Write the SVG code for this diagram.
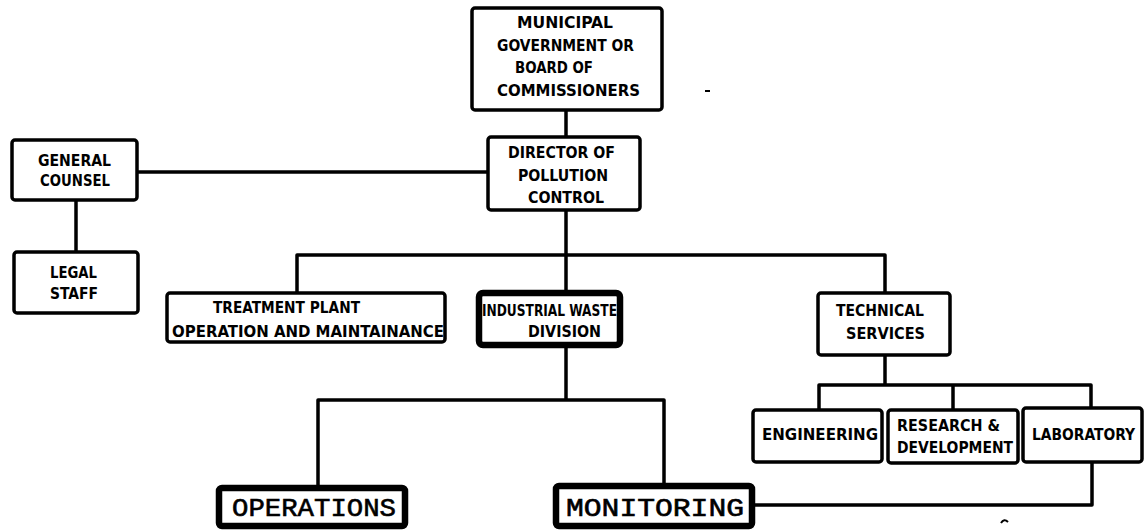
<svg xmlns="http://www.w3.org/2000/svg" width="1145" height="530" viewBox="0 0 1145 530">
<style>
.box{fill:#fff;stroke:#000;stroke-width:3.5}
.thick{fill:#fff;stroke:#000;stroke-width:6.5}
.lbl{font-family:"DejaVu Sans Condensed","DejaVu Sans",sans-serif;font-weight:bold;font-size:16px;fill:#000}
.mono{font-family:"Liberation Mono","Courier New",monospace;font-size:25px;fill:#000;stroke:#000;stroke-width:0.6}
.conn{fill:none;stroke:#000;stroke-width:3.5;stroke-linejoin:round}
</style>
<rect width="1145" height="530" fill="#fff"/>
<g id="connectors" class="conn">
<path d="M566 110V137"/>
<path d="M137 172H488"/>
<path d="M76 200V252"/>
<path d="M566 210V292"/>
<path d="M297 293V255H885V293"/>
<path d="M885 355V385"/>
<path d="M819 410V385H1091V408"/>
<path d="M953 385V410"/>
<path d="M566 345V400"/>
<path d="M318 487V400H664V485"/>
<path d="M1092 462V505H752"/>
</g>
<g id="municipal">
<rect class="box" x="472" y="8" width="190" height="102" rx="3"/>
<text class="lbl" x="517" y="28" textLength="96" lengthAdjust="spacingAndGlyphs">MUNICIPAL</text>
<text class="lbl" x="497" y="51" textLength="137" lengthAdjust="spacingAndGlyphs">GOVERNMENT OR</text>
<text class="lbl" x="515" y="73" textLength="78" lengthAdjust="spacingAndGlyphs">BOARD OF</text>
<text class="lbl" x="497" y="96" textLength="143" lengthAdjust="spacingAndGlyphs">COMMISSIONERS</text>
</g>
<g id="director">
<rect class="box" x="488" y="137" width="152" height="73" rx="3"/>
<text class="lbl" x="508" y="158" textLength="107" lengthAdjust="spacingAndGlyphs">DIRECTOR OF</text>
<text class="lbl" x="518" y="181" textLength="90" lengthAdjust="spacingAndGlyphs">POLLUTION</text>
<text class="lbl" x="528" y="203" textLength="76" lengthAdjust="spacingAndGlyphs">CONTROL</text>
</g>
<g id="general-counsel">
<rect class="box" x="12" y="140" width="125" height="60" rx="3"/>
<text class="lbl" x="38" y="166" textLength="73" lengthAdjust="spacingAndGlyphs">GENERAL</text>
<text class="lbl" x="40" y="186" textLength="70" lengthAdjust="spacingAndGlyphs">COUNSEL</text>
</g>
<g id="legal-staff">
<rect class="box" x="14" y="252" width="124" height="61" rx="3"/>
<text class="lbl" x="50" y="278" textLength="47" lengthAdjust="spacingAndGlyphs">LEGAL</text>
<text class="lbl" x="50" y="299" textLength="48" lengthAdjust="spacingAndGlyphs">STAFF</text>
</g>
<g id="treatment-plant">
<rect class="box" x="167" y="293" width="278" height="49" rx="3"/>
<text class="lbl" x="213" y="313" textLength="147" lengthAdjust="spacingAndGlyphs">TREATMENT PLANT</text>
<text class="lbl" x="172" y="337" textLength="272" lengthAdjust="spacingAndGlyphs">OPERATION AND MAINTAINANCE</text>
</g>
<g id="industrial-waste">
<rect class="thick" x="479" y="293" width="141" height="52" rx="4"/>
<text class="lbl" x="482" y="316" textLength="135" lengthAdjust="spacingAndGlyphs">INDUSTRIAL WASTE</text>
<text class="lbl" x="528" y="337" textLength="73" lengthAdjust="spacingAndGlyphs">DIVISION</text>
</g>
<g id="technical-services">
<rect class="box" x="818" y="293" width="132" height="62" rx="3"/>
<text class="lbl" x="836" y="316" textLength="88" lengthAdjust="spacingAndGlyphs">TECHNICAL</text>
<text class="lbl" x="846" y="339" textLength="79" lengthAdjust="spacingAndGlyphs">SERVICES</text>
</g>
<g id="engineering">
<rect class="box" x="753" y="410" width="129" height="52" rx="3"/>
<text class="lbl" x="762" y="440" textLength="116" lengthAdjust="spacingAndGlyphs">ENGINEERING</text>
</g>
<g id="research">
<rect class="box" x="888" y="410" width="130" height="53" rx="3"/>
<text class="lbl" x="897" y="431" textLength="103" lengthAdjust="spacingAndGlyphs">RESEARCH &amp;</text>
<text class="lbl" x="897" y="453" textLength="116" lengthAdjust="spacingAndGlyphs">DEVELOPMENT</text>
</g>
<g id="laboratory">
<rect class="box" x="1023" y="408" width="119" height="54" rx="3"/>
<text class="lbl" x="1032" y="440" textLength="103" lengthAdjust="spacingAndGlyphs">LABORATORY</text>
</g>
<g id="operations">
<rect class="thick" x="219" y="488" width="186" height="38" rx="3"/>
<text class="mono" x="232" y="516" textLength="164" lengthAdjust="spacingAndGlyphs">OPERATIONS</text>
</g>
<g id="monitoring">
<rect class="thick" x="556" y="486" width="196" height="40" rx="3"/>
<text class="mono" x="566" y="516" textLength="178" lengthAdjust="spacingAndGlyphs">MONITORING</text>
</g>
<g id="marks" fill="none" stroke="#000" stroke-width="2">
<path d="M705 91H710"/>
<path d="M1001 523Q1004 518 1008 522"/>
</g>
</svg>
